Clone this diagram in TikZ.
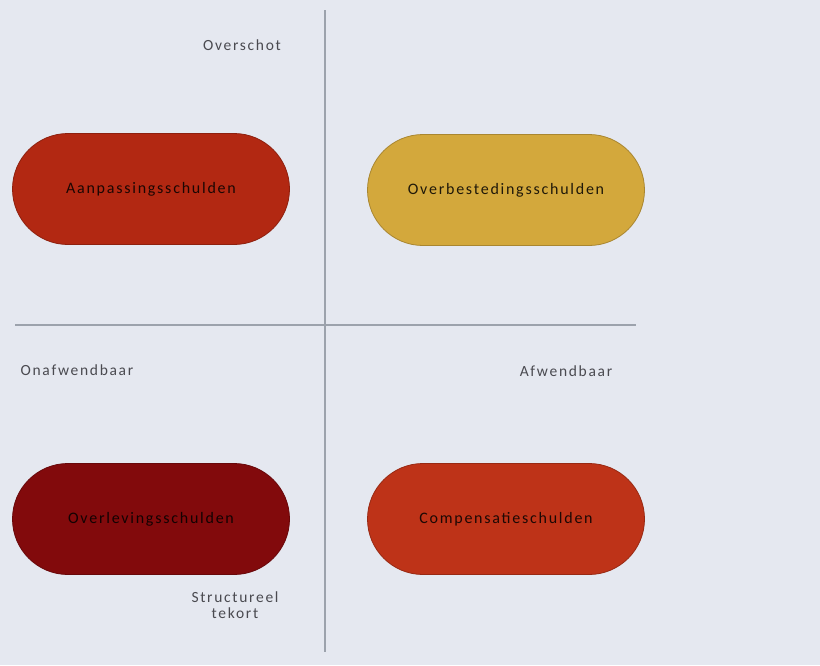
\documentclass[tikz,border=0pt]{standalone}
\usepackage{fontspec}
\setmainfont{Carlito}[LetterSpace=11]
\definecolor{bg}{HTML}{E5E8F0}
\definecolor{axis}{HTML}{9CA2AC}
\definecolor{redA}{HTML}{B22812}
\definecolor{goldB}{HTML}{D3A83C}
\definecolor{darkC}{HTML}{820A0C}
\definecolor{redD}{HTML}{BE3318}
\definecolor{txt}{HTML}{4A4A50}
\tikzset{
  pill/.style={rounded rectangle, minimum width=277pt, minimum height=111pt, draw=#1!80!black, line width=0.8pt, fill=#1, font=\fontsize{16}{18}\selectfont, text=black!85!#1, inner sep=0pt},
  lbl/.style={font=\fontsize{15.5}{16}\selectfont, text=txt, align=center, inner sep=0pt},
  axisline/.style={draw=axis, line width=1.2pt}
}
\usetikzlibrary{shapes.misc}
\begin{document}
\begin{tikzpicture}[x=1pt,y=-1pt]
\fill[bg] (0,0) rectangle (820,665);
\useasboundingbox (0,0) rectangle (820,665);
\coordinate (vt) at (325,10);
\coordinate (vb) at (325,652);
\coordinate (hl) at (15,325);
\coordinate (hr) at (636,325);
\draw[axisline] (vt) -- (vb);
\draw[axisline] (hl) -- (hr);
\node[pill=redA] (a) at (151,189) {Aanpassingsschulden};
\node[pill=goldB] (b) at (506,190) {Overbestedingsschulden};
\node[pill=darkC] (c) at (151,519) {Overlevingsschulden};
\node[pill=redD] (d) at (506,519) {Compensatieschulden};
\node[lbl] (top) at (242,45) {Overschot};
\node[lbl] (left) at (77,370) {Onafwendbaar};
\node[lbl] (right) at (566,371) {Afwendbaar};
\node[lbl] (bottom) at (235,605) {Structureel\\tekort};
\end{tikzpicture}
\end{document}
